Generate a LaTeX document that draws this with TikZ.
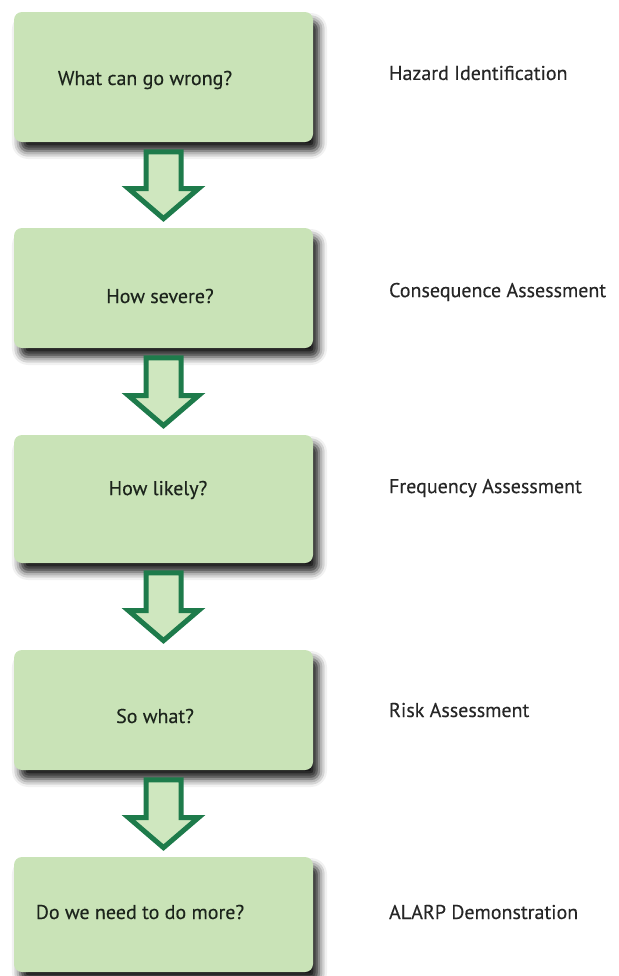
\documentclass[tikz,border=0pt]{standalone}
\usepackage{fontspec}
\setmainfont{PT Sans}
\newfontfamily\heavysans{PT Sans}[FakeBold=0.3]
\usetikzlibrary{calc,shadows.blur}
\definecolor{boxgreen}{HTML}{C9E3B7}
\definecolor{arrowfill}{HTML}{CFE7BF}
\definecolor{arrowedge}{HTML}{1E7B4B}
\definecolor{darktext}{HTML}{1C241C}

\newcommand{\flowarrow}[2]{%
\draw[arrowline] ($(#1.south)+(-17.5,9.5)$) -- ($(#2.north)+(-17.5,-39)$)
 -- ($(#2.north)+(-35,-39)$) -- ($(#2.north)+(0,-9)$) -- ($(#2.north)+(35,-39)$)
 -- ($(#2.north)+(17.5,-39)$) -- ($(#1.south)+(17.5,9.5)$) -- cycle;}

\begin{document}
\begin{tikzpicture}[x=0.5pt,y=-0.5pt,
 stepbox/.style={rounded corners=4pt, fill=boxgreen, minimum width=149.5pt,
  blur shadow={shadow xshift=3pt, shadow yshift=-4.5pt, shadow blur radius=4pt,
   shadow opacity=90}},
 question/.style={font=\heavysans\fontsize{10}{12}\selectfont, text=darktext},
 phase/.style={anchor=west, font=\heavysans\fontsize{10}{12}\selectfont, text=black!85},
 arrowline/.style={draw=arrowedge, fill=arrowfill, line width=2.5pt, line join=miter}]
\useasboundingbox (0,0) rectangle (619,976);

\node[stepbox, minimum height=65pt] (b1) at (163.5,77) {};
\node[stepbox, minimum height=60pt] (b2) at (163.5,288) {};
\node[stepbox, minimum height=64pt] (b3) at (163.5,499) {};
\node[stepbox, minimum height=60pt] (b4) at (163.5,710) {};
\node[stepbox, minimum height=57.5pt] (b5) at (163.5,914.5) {};

\node[question] (q1) at (145,80) {What can go wrong?};
\node[question] (q2) at (160,296) {How severe?};
\node[question] (q3) at (158,490) {How likely?};
\node[question] (q4) at (155,716) {So what?};
\node[question] (q5) at (140,912) {Do we need to do more?};

\flowarrow{b1}{b2}
\flowarrow{b2}{b3}
\flowarrow{b3}{b4}
\flowarrow{b4}{b5}

\node[phase] (p1) at (382,73) {Hazard Identification};
\node[phase] (p2) at (382,292) {Consequence Assessment};
\node[phase] (p3) at (382,488) {Frequency Assessment};
\node[phase] (p4) at (382,710) {Risk Assessment};
\node[phase] (p5) at (382,912) {ALARP Demonstration};
\end{tikzpicture}
\end{document}
